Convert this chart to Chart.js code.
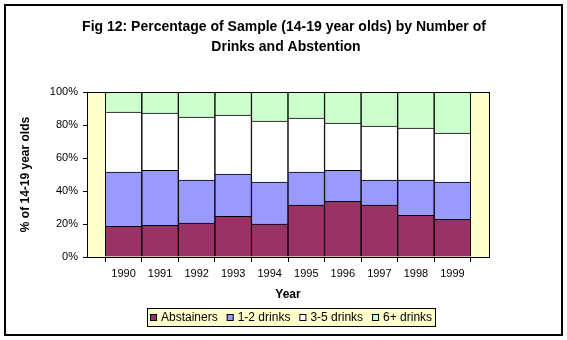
<!DOCTYPE html>
<html>
<head>
<meta charset="utf-8">
<script src="https://cdn.jsdelivr.net/npm/chart.js@4"></script>
<style>
  body { margin: 0; background: #fff; }
  canvas { display: block; }
</style>
</head>
<body>
<canvas id="chart" width="567" height="340"></canvas>
<script>
const years = ['1990', '1991', '1992', '1993', '1994', '1995', '1996', '1997', '1998', '1999'];
const abstainers = [18.6, 19.2, 20.5, 24.7, 19.9, 31.4, 33.8, 31.4, 25.3, 22.9];
const oneToTwo = [32.8, 33.4, 26.1, 25.5, 25.5, 20.0, 18.8, 15.2, 21.3, 22.5];
const threeToFive = [36.5, 34.6, 38.2, 35.8, 37.0, 32.8, 28.6, 32.8, 31.5, 29.7];
const sixPlus = [12.1, 12.8, 15.2, 14.0, 17.6, 15.8, 18.8, 20.6, 21.9, 24.9];
const yTicks = [0, 20, 40, 60, 80, 100];

const FONT = '"Liberation Sans", Arial, sans-serif';
const titleLines = ['Fig 12: Percentage of Sample (14-19 year olds) by Number of', 'Drinks and Abstention'];

// empty slot on each side of the years, like the original
const labels = [''].concat(years, ['']);
const pad = arr => [null].concat(arr, [null]);

const series = [
  { label: 'Abstainers', data: abstainers, color: '#993366' },
  { label: '1-2 drinks', data: oneToTwo, color: '#9999FF' },
  { label: '3-5 drinks', data: threeToFive, color: '#FFFFFF' },
  { label: '6+ drinks', data: sixPlus, color: '#CCFFCC' }
];

const decor = {
  id: 'decor',
  beforeDraw(chart) {
    const ctx = chart.ctx;
    const a = chart.chartArea;
    ctx.save();
    ctx.fillStyle = '#FFFFFF';
    ctx.fillRect(0, 0, chart.width, chart.height);
    ctx.fillStyle = '#FFFFCC';
    ctx.fillRect(a.left, a.top, a.right - a.left, a.bottom - a.top);
    ctx.restore();
  },
  afterDatasetsDraw(chart) {
    const ctx = chart.ctx;
    const a = chart.chartArea;
    ctx.save();
    ctx.strokeStyle = '#000';
    ctx.lineWidth = 1;
    ctx.strokeRect(Math.round(a.left) + 0.5, Math.round(a.top) + 0.5,
      Math.round(a.right - a.left), Math.round(a.bottom - a.top));
    ctx.restore();
  },
  afterDraw(chart) {
    const ctx = chart.ctx;
    ctx.save();
    // outer frame
    ctx.strokeStyle = '#000';
    ctx.lineWidth = 2;
    ctx.strokeRect(5, 5, 557, 330);

    // title
    ctx.fillStyle = '#000';
    ctx.font = 'bold 14px ' + FONT;
    ctx.textAlign = 'center';
    ctx.textBaseline = 'middle';
    ctx.fillText(titleLines[0], 284, 27);
    ctx.fillText(titleLines[1], 286, 47);

    // legend
    ctx.font = '12px ' + FONT;
    ctx.textAlign = 'left';
    const sq = 7, gapText = 4, gapItem = 9;
    let total = 0;
    chart.data.datasets.forEach((d, i) => {
      total += sq + gapText + ctx.measureText(d.label).width;
      if (i < chart.data.datasets.length - 1) total += gapItem;
    });
    const boxL = 147, boxR = 436, boxT = 308, boxB = 327;
    ctx.fillStyle = '#FFFFCC';
    ctx.fillRect(boxL, boxT, boxR - boxL, boxB - boxT);
    ctx.lineWidth = 1;
    ctx.strokeStyle = '#000';
    ctx.strokeRect(boxL + 0.5, boxT + 0.5, boxR - boxL - 1, boxB - boxT - 1);
    let x = Math.round((boxL + boxR) / 2 - total / 2);
    const cy = (boxT + boxB) / 2;
    chart.data.datasets.forEach(d => {
      ctx.fillStyle = d.backgroundColor;
      ctx.fillRect(x, Math.round(cy - sq / 2), sq, sq);
      ctx.strokeRect(x + 0.5, Math.round(cy - sq / 2) + 0.5, sq - 1, sq - 1);
      ctx.fillStyle = '#000';
      ctx.fillText(d.label, x + sq + gapText, cy + 0.5);
      x += sq + gapText + ctx.measureText(d.label).width + gapItem;
    });
    ctx.restore();
  }
};

new Chart(document.getElementById('chart'), {
  type: 'bar',
  data: {
    labels: labels,
    datasets: series.map(s => ({
      label: s.label,
      data: pad(s.data),
      backgroundColor: s.color,
      borderColor: '#000',
      borderWidth: 1,
      barPercentage: 1,
      categoryPercentage: 1
    }))
  },
  options: {
    responsive: false,
    animation: false,
    events: [],
    layout: { padding: { left: 15, right: 78, top: 92, bottom: 38 } },
    plugins: {
      legend: { display: false },
      title: { display: false },
      tooltip: { enabled: false }
    },
    scales: {
      x: {
        stacked: true,
        offset: false,
        grid: { drawOnChartArea: false, tickLength: 5, color: '#000', lineWidth: 1 },
        border: { color: '#000', width: 1 },
        ticks: { autoSkip: false, maxRotation: 0, color: '#000', padding: 5, font: { family: FONT, size: 11 } },
        title: { display: true, text: 'Year', color: '#000', padding: { top: 0, bottom: 0 }, font: { family: FONT, size: 12, weight: 'bold' } },
        afterFit: s => { s.height = 45; }
      },
      y: {
        stacked: true,
        min: yTicks[0],
        max: yTicks[yTicks.length - 1],
        afterBuildTicks: s => { s.ticks = yTicks.map(v => ({ value: v })); },
        grid: { drawOnChartArea: false, tickLength: 4, color: '#000', lineWidth: 1 },
        border: { color: '#000', width: 1 },
        ticks: { color: '#000', padding: 5, font: { family: FONT, size: 11 }, callback: v => v + '%' },
        title: { display: true, text: '% of 14-19 year olds', color: '#000', padding: { top: 3, bottom: 0 }, font: { family: FONT, size: 12, weight: 'bold' } },
        afterFit: s => { s.width = 72; }
      }
    }
  },
  plugins: [decor]
});
</script>
</body>
</html>
